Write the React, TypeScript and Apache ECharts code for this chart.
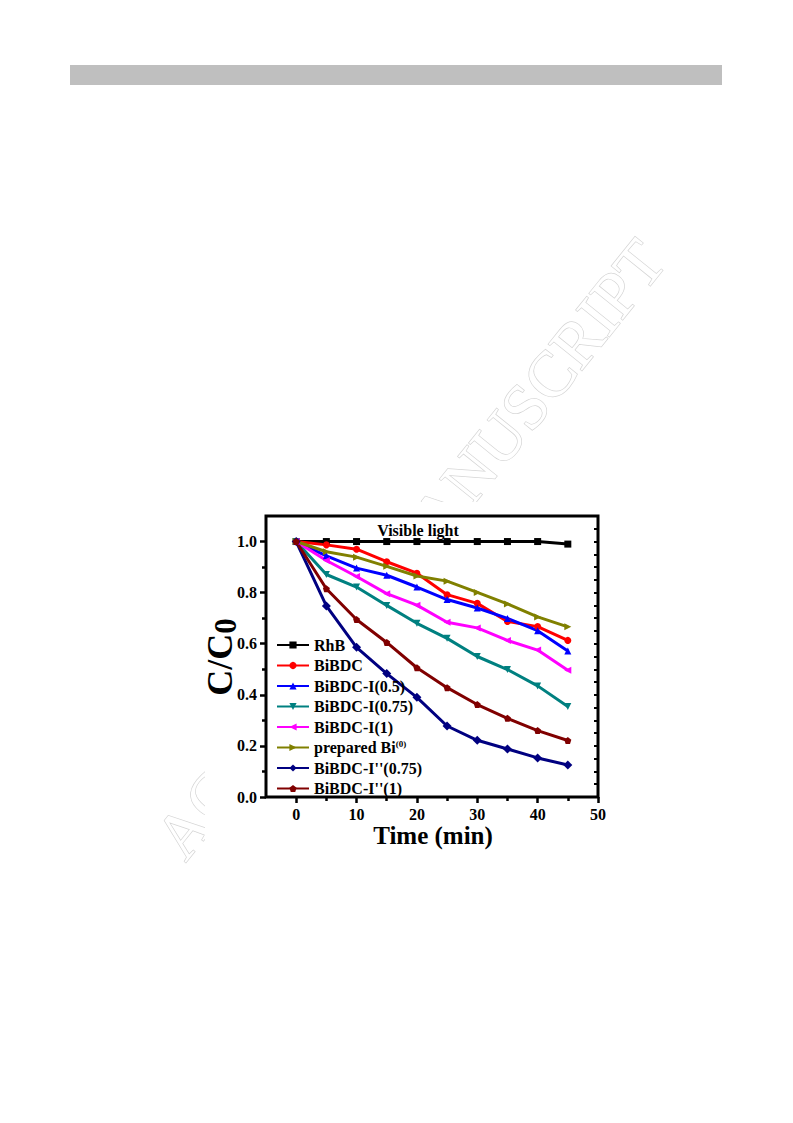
import React, { useEffect, useRef } from "react";
import * as echarts from "echarts";

const times = [0, 5, 10, 15, 20, 25, 30, 35, 40, 45];
const rhb = [1.0, 1.0, 1.0, 1.0, 1.0, 1.0, 1.0, 1.0, 1.0, 0.99];
const bibdc = [1.0, 0.987, 0.97, 0.921, 0.876, 0.792, 0.758, 0.687, 0.667, 0.613];
const bibdcI05 = [1.0, 0.944, 0.896, 0.868, 0.822, 0.773, 0.74, 0.699, 0.651, 0.572];
const bibdcI075 = [1.0, 0.871, 0.822, 0.75, 0.68, 0.621, 0.55, 0.499, 0.435, 0.354];
const bibdcI1 = [1.0, 0.926, 0.863, 0.796, 0.751, 0.684, 0.662, 0.613, 0.575, 0.496];
const preparedBi = [1.0, 0.96, 0.939, 0.903, 0.865, 0.845, 0.801, 0.756, 0.705, 0.666];
const bibdcI2075 = [1.0, 0.748, 0.586, 0.483, 0.39, 0.278, 0.222, 0.188, 0.153, 0.125];
const bibdcI21 = [1.0, 0.815, 0.695, 0.605, 0.506, 0.428, 0.362, 0.308, 0.26, 0.221];

const seriesNames = [
  "RhB",
  "BiBDC",
  "BiBDC-I(0.5)",
  "BiBDC-I(0.75)",
  "BiBDC-I(1)",
  "prepared Bi(0)",
  "BiBDC-I''(0.75)",
  "BiBDC-I''(1)",
];
const seriesValues = [rhb, bibdc, bibdcI05, bibdcI075, bibdcI1, preparedBi, bibdcI2075, bibdcI21];
const seriesColors = ["#000000", "#ff0000", "#0000ff", "#008080", "#ff00ff", "#808000", "#000080", "#800000"];
const pentagon = "path://M0,-1 L0.951,-0.309 L0.588,0.809 L-0.588,0.809 L-0.951,-0.309 Z";
const seriesSymbols = ["rect", "circle", "triangle", "triangle", "triangle", "triangle", "diamond", pentagon];
const seriesRotate = [0, 0, 0, 180, 90, -90, 0, 0];

const xMajorTicks = [0, 10, 20, 30, 40, 50];
const xMinorTicks = [5, 15, 25, 35, 45];
const yMajorTicks = [0, 0.2, 0.4, 0.6, 0.8, 1.0];
const yMinorTicks = [0.1, 0.3, 0.5, 0.7, 0.9];
const yRightTicks = [0.05, 0.1, 0.15, 0.2, 0.25, 0.3, 0.35, 0.4, 0.45, 0.5, 0.55, 0.6, 0.65, 0.7, 0.75, 0.8, 0.85, 0.9, 0.95, 1.0, 1.05];

const FONT = "'Liberation Serif', 'Times New Roman', serif";

export default function App() {
  const ref = useRef<HTMLDivElement>(null);
  useEffect(() => {
    if (!ref.current) return;
    const chart = echarts.init(ref.current, undefined, { renderer: "svg" });
    const series = seriesNames.map((name, i) => ({
      name,
      type: "line",
      xAxisIndex: 0,
      yAxisIndex: 0,
      data: times.map((t, j) => [t, seriesValues[i][j]]),
      symbol: seriesSymbols[i],
      symbolRotate: seriesRotate[i],
      symbolSize: i === 6 ? 9 : 7,
      lineStyle: { color: seriesColors[i], width: 3 },
      itemStyle: { color: seriesColors[i] },
    }));
    const tickStyle = { color: "#000", width: 2.5 };
    const option: any = {
      animation: false,
      backgroundColor: "#ffffff",
      grid: {
        left: 266,
        right: 793 - 598,
        top: 516,
        bottom: 1123 - 797,
        show: true,
        borderColor: "#000",
        borderWidth: 3,
        backgroundColor: "transparent",
      },
      xAxis: [
        {
          type: "value",
          min: -5,
          max: 50,
          position: "bottom",
          axisLine: { show: false, onZero: false },
          splitLine: { show: false },
          axisTick: { show: true, customValues: xMajorTicks, length: 6, lineStyle: tickStyle },
          axisLabel: {
            customValues: xMajorTicks,
            margin: 9,
            color: "#000",
            fontFamily: FONT,
            fontWeight: "bold",
            fontSize: 16,
          },
        },
        {
          type: "value",
          min: -5,
          max: 50,
          position: "bottom",
          offset: 0,
          axisLine: { show: false, onZero: false },
          splitLine: { show: false },
          axisLabel: { show: false },
          axisTick: { show: true, customValues: xMinorTicks, length: 4, lineStyle: tickStyle },
        },
      ],
      yAxis: [
        {
          type: "value",
          min: 0,
          max: 1.1,
          position: "left",
          axisLine: { show: false, onZero: false },
          splitLine: { show: false },
          axisTick: { show: true, customValues: yMajorTicks, length: 6, lineStyle: tickStyle },
          axisLabel: {
            customValues: yMajorTicks,
            margin: 9,
            color: "#000",
            fontFamily: FONT,
            fontWeight: "bold",
            fontSize: 16,
            formatter: (v: number) => v.toFixed(1),
          },
        },
        {
          type: "value",
          min: 0,
          max: 1.1,
          position: "left",
          offset: 0,
          axisLine: { show: false, onZero: false },
          splitLine: { show: false },
          axisLabel: { show: false },
          axisTick: { show: true, customValues: yMinorTicks, length: 4, lineStyle: tickStyle },
        },
        {
          type: "value",
          min: 0,
          max: 1.1,
          position: "right",
          offset: 0,
          axisLine: { show: false, onZero: false },
          splitLine: { show: false },
          axisLabel: { show: false },
          axisTick: { show: true, inside: true, customValues: yRightTicks, length: 4, lineStyle: { color: "#000", width: 2 } },
        },
      ],
      legend: {
        orient: "vertical",
        left: 276,
        top: 637,
        padding: 0,
        itemWidth: 32,
        itemHeight: 9,
        itemGap: 4.5,
        data: seriesNames,
        formatter: (name: string) =>
          name === "prepared Bi(0)" ? "{n|prepared Bi}{sup|(0)}" : "{n|" + name + "}",
        textStyle: {
          color: "#000",
          fontFamily: FONT,
          fontWeight: "bold",
          fontSize: 16,
          lineHeight: 16,
          rich: {
            n: { fontSize: 16, fontFamily: FONT, fontWeight: "bold", lineHeight: 16, color: "#000" },
            sup: { fontSize: 9, fontFamily: FONT, fontWeight: "bold", verticalAlign: "top", lineHeight: 10, color: "#000" },
          },
        },
      },
      graphic: [
        {
          type: "text",
          z: -10,
          x: 410,
          y: 549,
          rotation: (51.2 * Math.PI) / 180,
          silent: true,
          style: {
            text: "ACCEPTED MANUSCRIPT",
            x: 0,
            y: 0,
            align: "center",
            verticalAlign: "middle",
            fontSize: 65,
            fontFamily: FONT,
            fill: "#ffffff",
            stroke: "#d4d4d4",
            lineWidth: 1.4,
          },
        },
        {
          type: "rect",
          z: -5,
          silent: true,
          shape: { x: 205, y: 502, width: 408, height: 348 },
          style: { fill: "#ffffff" },
        },
        {
          type: "rect",
          z: 5,
          silent: true,
          shape: { x: 70, y: 65, width: 652, height: 20 },
          style: { fill: "#bfbfbf" },
        },
        {
          type: "text",
          z: 5,
          x: 418,
          y: 530,
          style: {
            text: "Visible light",
            align: "center",
            verticalAlign: "middle",
            fontSize: 16,
            fontWeight: "bold",
            fontFamily: FONT,
            fill: "#000",
          },
        },
        {
          type: "text",
          z: 5,
          x: 433,
          y: 835,
          style: {
            text: "Time (min)",
            align: "center",
            verticalAlign: "middle",
            fontSize: 25,
            fontWeight: "bold",
            fontFamily: FONT,
            fill: "#000",
          },
        },
        {
          type: "text",
          z: 5,
          x: 220,
          y: 657,
          rotation: Math.PI / 2,
          style: {
            text: "{a|C/C}{b|0}",
            align: "center",
            verticalAlign: "middle",
            fill: "#000",
            rich: {
              a: { fontSize: 36, fontWeight: "bold", fontFamily: FONT, lineHeight: 42, fill: "#000" },
              b: { fontSize: 31, fontWeight: "bold", fontFamily: FONT, lineHeight: 31, verticalAlign: "bottom", fill: "#000" },
            },
          },
        },
      ],
      series,
    };
    chart.setOption(option);
    return () => chart.dispose();
  }, []);
  return <div ref={ref} style={{ position: "absolute", left: 0, top: 0, width: 793, height: 1123 }} />;
}
